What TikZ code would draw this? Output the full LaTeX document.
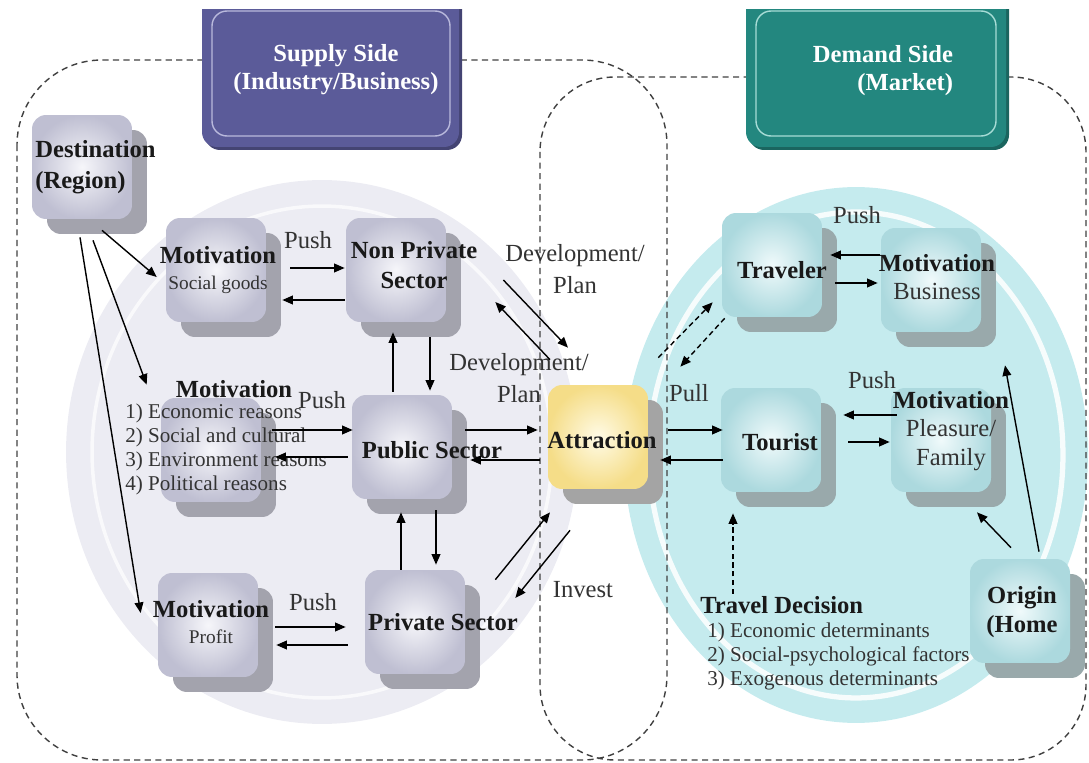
\documentclass[tikz,border=0pt]{standalone}
\usepackage{fontspec}
\setmainfont{Liberation Serif}
\usetikzlibrary{arrows.meta,calc,shadows}

\definecolor{supfill}{HTML}{5B5B99}
\definecolor{supline}{HTML}{B9B9DC}
\definecolor{demfill}{HTML}{23877F}
\definecolor{demline}{HTML}{A7DCD6}
\definecolor{supdisc}{HTML}{ECECF3}
\definecolor{demdisc}{HTML}{C5EBEE}
\definecolor{supin}{HTML}{F6F6FA}
\definecolor{supedge}{HTML}{BFBFD2}
\definecolor{supshade}{HTML}{A3A3AD}
\definecolor{demin}{HTML}{F0FAFB}
\definecolor{demedge}{HTML}{ACD9DE}
\definecolor{demshade}{HTML}{99A9AB}
\definecolor{attin}{HTML}{FFFBE6}
\definecolor{attedge}{HTML}{F5DD88}
\definecolor{attshade}{HTML}{A4A4A4}
\definecolor{txtgray}{HTML}{333333}

\begin{document}
\begin{tikzpicture}[x=0.02cm, y=-0.02cm,
  nodebox/.style={rounded corners=0.28cm, minimum width=2cm, minimum height=2.08cm, inner sep=0pt},
  supbox/.style={nodebox, inner color=supin, outer color=supedge,
    general shadow={fill=supshade, shadow xshift=0.3cm, shadow yshift=-0.3cm}},
  dembox/.style={nodebox, inner color=demin, outer color=demedge,
    general shadow={fill=demshade, shadow xshift=0.3cm, shadow yshift=-0.3cm}},
  attbox/.style={nodebox, inner color=attin, outer color=attedge,
    general shadow={fill=attshade, shadow xshift=0.3cm, shadow yshift=-0.3cm}},
  boldtxt/.style={font=\fontsize{14}{17}\selectfont\bfseries, text=black!90, align=center, inner sep=0pt},
  plaintxt/.style={font=\fontsize{14}{18}\selectfont, text=txtgray, align=center, inner sep=0pt},
  listtxt/.style={font=\fontsize{12}{13.6}\selectfont, text=txtgray, align=left, inner sep=0pt},
  hdrtxt/.style={font=\fontsize{14}{16}\selectfont\bfseries, text=white, inner sep=0pt},
  region/.style={black!75, line width=0.8pt, dash pattern=on 3.5pt off 2.5pt},
  arr/.style={thick, -{Triangle[length=6pt, width=5pt]}},
  darr/.style={arr, dash pattern=on 3pt off 2pt}]
\useasboundingbox (0,0) rectangle (1089,763);

% background discs
\fill[supdisc] (322,452) ellipse [x radius=5.12cm, y radius=5.44cm];
\draw[white, line width=2pt, opacity=0.7] (322,452) ellipse [x radius=4.6cm, y radius=4.92cm];
\fill[demdisc] (856,455) ellipse [x radius=4.64cm, y radius=5.36cm];
\draw[white, line width=3pt, opacity=0.85] (856,455) ellipse [x radius=4.14cm, y radius=4.86cm];

% supply and demand regions
\draw[region, rounded corners=1.7cm] (17,60) rectangle (667,760);
\draw[region, rounded corners=1.5cm] (540,77) rectangle (1086,760);

% headers
\begin{scope}
\clip (0,10) rectangle (1089,200);
\fill[supfill!75!black, rounded corners=0.3cm] (205,-20) rectangle (462,150);
\fill[supfill, rounded corners=0.3cm] (202,-20) rectangle (459,147);
\draw[supline, thick, rounded corners=0.3cm] (212,11) rectangle (450,136);
\fill[demfill!75!black, rounded corners=0.3cm] (749,-20) rectangle (1009,150);
\fill[demfill, rounded corners=0.3cm] (746,-20) rectangle (1006,147);
\draw[demline, thick, rounded corners=0.3cm] (756,11) rectangle (996,136);
\end{scope}
\node[hdrtxt, align=center] (suptxt) at (336,70) {Supply Side\\(Industry/Business)};
\node[hdrtxt, align=right] (demtxt) at (883,71) {Demand Side\\(Market)};

% boxes
\node[supbox] (dest) at (82,167) {};
\node[supbox] (msg) at (216,270) {};
\node[supbox] (npriv) at (396,270) {};
\node[supbox] (mlist) at (211,450) {};
\node[supbox] (pub) at (402,447) {};
\node[supbox] (mprof) at (208,625) {};
\node[supbox] (priv) at (415,622) {};
\node[attbox] (attr) at (598,437) {};
\node[dembox] (trav) at (772,265) {};
\node[dembox] (mbus) at (931,280) {};
\node[dembox] (tour) at (771,440) {};
\node[dembox] (mplea) at (941,440) {};
\node[dembox] (orig) at (1020,611) {};

% texts
\node[boldtxt, align=left, anchor=west, font=\fontsize{14}{17.5}\selectfont\bfseries] (desttxt) at (35,167) {Destination\\(Region)};
\node[boldtxt, font=\fontsize{14}{14.5}\selectfont\bfseries] (msgtxt) at (218,270) {Motivation\\{\fontsize{11}{12}\selectfont\mdseries\color{txtgray}Social goods}};
\node[boldtxt] (nprivtxt) at (414,265) {Non Private\\Sector};
\node[boldtxt] (mlisttxt) at (234,389) {Motivation};
\node[listtxt, anchor=north west] (mlistitems) at (125,404) {1) Economic reasons\\2) Social and cultural\\3) Environment reasons\\4) Political reasons};
\node[boldtxt] (pubtxt) at (432,450) {Public Sector};
\node[boldtxt, font=\fontsize{14}{14.5}\selectfont\bfseries] (mproftxt) at (211,622) {Motivation\\{\fontsize{11}{12}\selectfont\mdseries\color{txtgray}Profit}};
\node[boldtxt] (privtxt) at (443,622) {Private Sector};
\node[boldtxt] (attrtxt) at (602,440) {Attraction};
\node[boldtxt] (travtxt) at (782,270) {Traveler};
\node[boldtxt, font=\fontsize{14}{16.4}\selectfont\bfseries] (mbustxt) at (937,277) {Motivation\\{\mdseries\color{txtgray}Business}};
\node[boldtxt] (tourtxt) at (780,442) {Tourist};
\node[boldtxt, font=\fontsize{14}{16.4}\selectfont\bfseries] (mpleatxt) at (951,431) {Motivation\\{\mdseries\color{txtgray}Pleasure/}\\{\mdseries\color{txtgray}Family}};
\node[boldtxt, font=\fontsize{14}{16.5}\selectfont\bfseries] (origtxt) at (1022,612) {Origin\\(Home};
\node[boldtxt, anchor=west] (tdec) at (700,605) {Travel Decision};
\node[listtxt, anchor=north west] (tditems) at (707,623) {1) Economic determinants\\2) Social-psychological factors\\3) Exogenous determinants};

\node[plaintxt] (push1) at (308,240) {Push};
\node[plaintxt] (push2) at (322,400) {Push};
\node[plaintxt] (push3) at (313,602) {Push};
\node[plaintxt] (push4) at (857,215) {Push};
\node[plaintxt] (push5) at (872,380) {Push};
\node[plaintxt] (dev1) at (575,269) {Development/\\Plan};
\node[plaintxt] (dev2) at (519,378) {Development/\\Plan};
\node[plaintxt] (invest) at (583,590) {Invest};
\node[plaintxt] (pull) at (689,393) {Pull};

% supply side arrows
\draw[arr] ($(dest.south)+(20,11)$) -- ($(msg.west)+(-9,7)$);
\draw[arr] ($(dest.south)+(11,21)$) -- ($(mlist.north west)+(-14,-13)$);
\draw[arr] ($(dest.south)+(-2,18)$) -- ($(mprof.west)+(-17,-12)$);
\draw[arr] ($(msg.east)+(24,-2)$) -- ($(npriv.west)+(-1,-2)$);
\draw[arr] ($(npriv.west)+(-1,30)$) -- ($(msg.east)+(16,30)$);
\draw[arr] ($(pub.north)+(-9,-3)$) -- ($(npriv.south)+(-3,10)$);
\draw[arr] ($(npriv.south)+(34,15)$) -- ($(pub.north)+(28,-4)$);
\draw[arr] ($(mlist.east)+(11,-20)$) -- ($(pub.west)+(1,-17)$);
\draw[arr] ($(pub.west)+(-4,10)$) -- ($(mlist.east)+(14,7)$);
\draw[arr] ($(priv.north)+(-14,0)$) -- ($(pub.south)+(-1,13)$);
\draw[arr] ($(pub.south)+(34,11)$) -- ($(priv.north)+(21,-5)$);
\draw[arr] ($(mprof.east)+(17,2)$) -- ($(priv.west)+(-19,5)$);
\draw[arr] ($(priv.west)+(-17,23)$) -- ($(mprof.east)+(18,20)$);

% attraction arrows
\draw[arr] ($(npriv.east)+(57,10)$) -- ($(attr.north)+(-30,-37)$);
\draw[arr] ($(attr.north)+(-48,-25)$) -- ($(npriv.east)+(49,32)$);
\draw[arr] ($(pub.east)+(13,-17)$) -- ($(attr.west)+(-10,-7)$);
\draw[arr] ($(attr.west)+(-8,23)$) -- ($(pub.east)+(18,13)$);
\draw[arr] ($(priv.north east)+(30,10)$) -- ($(attr.south)+(-48,23)$);
\draw[arr] ($(attr.south)+(-28,41)$) -- ($(priv.east)+(50,-24)$);
\draw[arr] ($(attr.east)+(20,-7)$) -- ($(tour.west)+(2,-10)$);
\draw[arr] ($(tour.west)+(2,20)$) -- ($(attr.east)+(12,23)$);
\draw[darr] ($(attr.north east)+(10,-27)$) -- ($(trav.south west)+(-9,-15)$);
\draw[darr] ($(trav.south west)+(3,1)$) -- ($(attr.north east)+(32,-18)$);

% demand side arrows
\draw[arr] ($(mbus.west)+(-1,-25)$) -- ($(trav.east)+(8,-10)$);
\draw[arr] ($(trav.east)+(13,18)$) -- ($(mbus.west)+(-3,3)$);
\draw[arr] ($(mplea.west)+(6,-25)$) -- ($(tour.east)+(22,-25)$);
\draw[arr] ($(tour.east)+(27,2)$) -- ($(mplea.west)+(-1,2)$);
\draw[darr] ($(tdec.north west)+(33,-2)$) -- ($(tour.south)+(-38,21)$);
\draw[arr] ($(orig.north)+(-9,-11)$) -- ($(mplea.south)+(36,20)$);
\draw[arr] ($(orig.north)+(19,-7)$) -- ($(mbus.south)+(74,33)$);
\end{tikzpicture}
\end{document}
